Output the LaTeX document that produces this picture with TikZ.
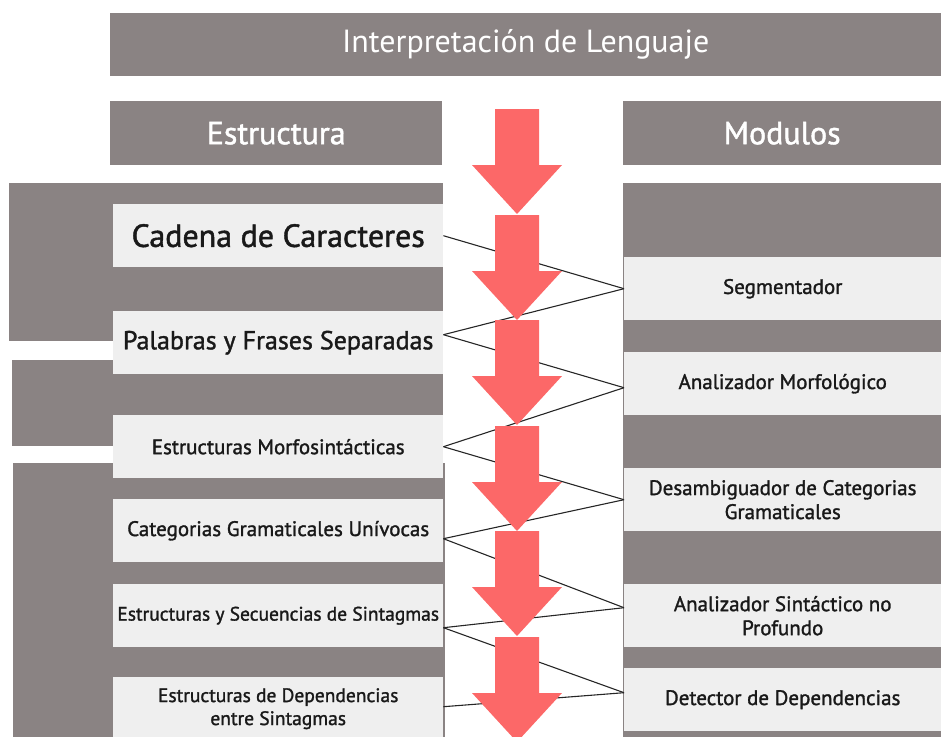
\documentclass[tikz,border=0pt]{standalone}
\usepackage{fontspec}
\setmainfont{PT Sans}
\newfontfamily\heavyfont[FakeBold=1.4]{PT Sans}
\definecolor{panel}{RGB}{138,131,131}
\definecolor{cell}{RGB}{239,239,239}
\definecolor{flow}{RGB}{252,104,104}
\tikzset{
  every panel/.style={fill=panel, inner sep=0pt, anchor=north west, text=white},
  every cell/.style={fill=cell, inner sep=0pt, anchor=north west, align=center, text=black!90},
}

\begin{document}
\begin{tikzpicture}[x=1pt, y=-1pt]
  \useasboundingbox (0,0) rectangle (941,736);
  \clip (0,0) rectangle (941,736);

  % headers
  \node [every panel/.try, minimum width=831pt, minimum height=63pt, font=\fontsize{32}{34}\selectfont] (title) at (110,13) {Interpretación de Lenguaje};
  \node [every panel/.try, minimum width=332pt, minimum height=64pt, font=\heavyfont\fontsize{32}{34}\selectfont] (head-struct) at (110,101) {Estructura};
  \node [every panel/.try, minimum width=318pt, minimum height=64pt, font=\heavyfont\fontsize{32}{34}\selectfont] (head-module) at (623,101) {Modulos};

  % grey backing blocks
  \fill [panel] (9,183) rectangle (443,341);
  \fill [panel] (12,360) rectangle (443,446);
  \fill [panel] (13,463) rectangle (445,740);
  \fill [panel] (623,183) rectangle (941,740);

  % structures (left)
  \foreach \t/\y/\f/\d [count=\i] in {Cadena de Caracteres/204/32/0, Palabras y Frases Separadas/311/26/8, Estructuras Morfosintácticas/415/21/0, Categorias Gramaticales Unívocas/499/21/-8, Estructuras y Secuencias de Sintagmas/584/19.5/-12, {Estructuras de Dependencias\\entre Sintagmas}/677/19.5/2}
  {
    \node [every cell/.try, minimum width=330pt, minimum height=63pt, font=\heavyfont\fontsize{\f}{23}\selectfont] (struct-\i) at (113,\y) {\t};
    \coordinate (struct-\i-out) at ([yshift=\d pt]struct-\i.east);
  }

  % modules (right)
  \foreach \t/\y/\d [count=\i] in {Segmentador/257/0, Analizador Morfológico/352/-4, {Desambiguador de Categorias\\Gramaticales}/468/0, {Analizador Sintáctico no\\Profundo}/584/8, Detector de Dependencias/668/7}
  {
    \node [every cell/.try, minimum width=317pt, minimum height=63pt, font=\heavyfont\fontsize{21}{24}\selectfont] (module-\i) at (624,\y) {\t};
    \coordinate (module-\i-in) at ([yshift=\d pt]module-\i.west);
  }

  % links
  \foreach \a/\b in {1/1, 2/1, 2/2, 3/2, 3/3, 4/3, 4/4, 5/4, 5/5, 6/5}
  \draw [line width=1.1pt, black!85] (struct-\a-out) -- (module-\b-in);

  % flow arrows
  \foreach \y in {109,215,320,426,531,637}
  \fill [flow] (495,\y) -- (539,\y) -- (539,\y+56) -- (562,\y+56) -- (517,\y+105) -- (472,\y+56) -- (495,\y+56) -- cycle;
\end{tikzpicture}
\end{document}
